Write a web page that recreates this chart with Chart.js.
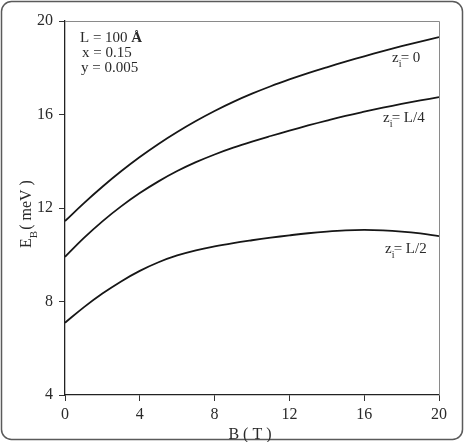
<!DOCTYPE html>
<html>
<head>
<meta charset="utf-8">
<script src="https://cdn.jsdelivr.net/npm/chart.js@4/dist/chart.umd.min.js"></script>
<style>
  html, body { margin: 0; padding: 0; background: #fff; }
  #wrap { position: relative; width: 467px; height: 442px; }
</style>
</head>
<body>
<div id="wrap"><canvas id="chart"></canvas></div>
<script>
// magnetic field B (T)
const fieldB = [0, 1, 2, 3, 4, 5, 6, 7, 8, 9, 10, 11, 12, 13, 14, 15, 16, 17, 18, 19, 20];

// binding energy E_B (meV) for each impurity position
const energyZ0 = [11.44, 12.20, 12.91, 13.57, 14.18, 14.74, 15.25, 15.72, 16.15, 16.54, 16.89,
    17.21, 17.50, 17.77, 18.02, 18.26, 18.49, 18.71, 18.92, 19.12, 19.31];
const energyL4 = [9.91, 10.71, 11.43, 12.07, 12.64, 13.14, 13.58, 13.96, 14.29, 14.58, 14.84,
    15.08, 15.31, 15.53, 15.74, 15.94, 16.12, 16.29, 16.45, 16.60, 16.74];
const energyL2 = [7.09, 7.75, 8.34, 8.86, 9.31, 9.68, 9.97, 10.19, 10.36, 10.50, 10.62,
    10.73, 10.83, 10.92, 10.99, 11.04, 11.06, 11.04, 10.99, 10.91, 10.80];

const seriesNames = ["0", "L/4", "L/2"];
const xTicks = [0, 4, 8, 12, 16, 20];
const yTicks = [4, 8, 12, 16, 20];
const paramLines = ["L = 100 ", "x = 0.15", "y = 0.005"];

const serif = "'Liberation Serif', 'DejaVu Serif', serif";
const toPoints = (ys) => fieldB.map((b, i) => ({ x: b, y: ys[i] }));

const lineStyle = {
    borderColor: "#161616",
    borderWidth: 1.8,
    pointRadius: 0,
    fill: false,
    tension: 0.4,
};

// draws the outer frame, the plot box and all the annotation text
const decorations = {
    id: "decorations",
    beforeDraw(chart) {
        const c = chart.ctx;
        c.save();
        c.strokeStyle = "#5a5a5a";
        c.lineWidth = 1.5;
        c.beginPath();
        c.roundRect(1.5, 1.5, 461, 438, 10);
        c.stroke();
        c.restore();
    },
    afterDraw(chart) {
        const c = chart.ctx;
        const a = chart.chartArea;
        const xs = chart.scales.x;
        const ys = chart.scales.y;
        c.save();

        // top and right sides of the box are lighter
        c.strokeStyle = "#8a8a8a";
        c.lineWidth = 1;
        c.beginPath();
        c.moveTo(a.left, a.top + 0.5);
        c.lineTo(a.right + 0.5, a.top + 0.5);
        c.lineTo(a.right + 0.5, a.bottom);
        c.stroke();

        c.fillStyle = "#2a2a2a";
        c.textBaseline = "alphabetic";

        // parameter block
        c.font = "15px " + serif;
        c.textAlign = "left";
        c.fillText(paramLines[0], 80, 42);
        const w = c.measureText(paramLines[0]).width;
        c.font = "bold 15px " + serif;
        c.fillText("Å", 80 + w, 42);
        c.font = "15px " + serif;
        c.fillText(paramLines[1], 82, 57);
        c.fillText(paramLines[2], 81, 72);

        // curve labels z_i = ...
        const labelAt = (name, x, y) => {
            c.font = "15px " + serif;
            c.fillText("z", x, y);
            const zw = c.measureText("z").width;
            c.font = "10px " + serif;
            c.fillText("i", x + zw, y + 5);
            c.font = "15px " + serif;
            c.fillText("= " + name, x + zw + 2, y);
        };
        labelAt(seriesNames[0], 392, ys.getPixelForValue(20) + 41);
        labelAt(seriesNames[1], 383, ys.getPixelForValue(20) + 101);
        labelAt(seriesNames[2], 385, ys.getPixelForValue(20) + 232);

        // x axis title
        c.font = "16px " + serif;
        c.textAlign = "center";
        c.fillText("B ( T )", (xs.left + xs.right) / 2 - 2, 439);

        // y axis title, rotated, with subscript
        c.translate(31, 214);
        c.rotate(-Math.PI / 2);
        c.textAlign = "left";
        const parts = ["E", "B", "( meV )"];
        c.font = "16px " + serif;
        const eW = c.measureText(parts[0]).width;
        c.font = "11px " + serif;
        const bW = c.measureText(parts[1]).width;
        c.font = "16px " + serif;
        const rW = c.measureText(parts[2]).width;
        const total = eW + bW + 1 + rW;
        let px = -total / 2;
        c.fillText(parts[0], px, 0);
        px += eW;
        c.font = "11px " + serif;
        c.fillText(parts[1], px, 6);
        px += bW + 1;
        c.font = "16px " + serif;
        c.fillText(parts[2], px, 0);

        c.restore();
    },
};

const ctx = document.getElementById("chart").getContext("2d");

new Chart(ctx, {
    type: "line",
    data: {
        datasets: [
            { label: "z_i = " + seriesNames[0], data: toPoints(energyZ0), ...lineStyle },
            { label: "z_i = " + seriesNames[1], data: toPoints(energyL4), ...lineStyle },
            { label: "z_i = " + seriesNames[2], data: toPoints(energyL2), ...lineStyle },
        ],
    },
    options: {
        responsive: true,
        maintainAspectRatio: false,
        animation: false,
        layout: {
            padding: { left: 0, right: 28, top: 21, bottom: 0 },
        },
        plugins: {
            legend: { display: false },
            tooltip: { enabled: false },
        },
        scales: {
            x: {
                type: "linear",
                min: 0,
                max: 20,
                afterBuildTicks: (scale) => {
                    scale.ticks = xTicks.map((v) => ({ value: v }));
                },
                afterFit: (scale) => {
                    scale.height = 47;
                },
                ticks: {
                    color: "#2a2a2a",
                    padding: 4,
                    font: { family: serif, size: 16 },
                    maxRotation: 0,
                },
                grid: {
                    drawOnChartArea: false,
                    drawTicks: true,
                    tickLength: 6,
                    color: "#333",
                    lineWidth: 1,
                },
                border: { display: true, color: "#222", width: 1.3 },
            },
            y: {
                min: 4,
                max: 20,
                afterBuildTicks: (scale) => {
                    scale.ticks = yTicks.map((v) => ({ value: v }));
                },
                afterFit: (scale) => {
                    scale.width = 65;
                },
                ticks: {
                    color: "#2a2a2a",
                    padding: 6,
                    font: { family: serif, size: 16 },
                },
                grid: {
                    drawOnChartArea: false,
                    drawTicks: true,
                    tickLength: 6,
                    color: "#333",
                    lineWidth: 1,
                },
                border: { display: true, color: "#222", width: 1.3 },
            },
        },
    },
    plugins: [decorations],
});
</script>
</body>
</html>
